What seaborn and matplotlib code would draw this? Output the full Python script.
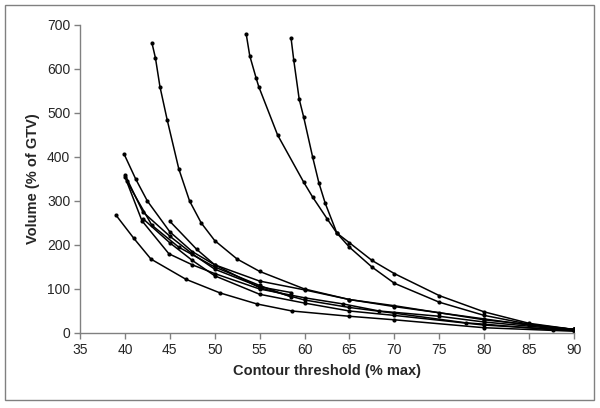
import pandas as pd
import matplotlib.pyplot as plt
import matplotlib.patches as mpatches
import seaborn as sns

# contour threshold (% max) vs volume (% of GTV), one list pair per lesion
curva_a_x = [43, 43.4, 43.9, 44.7, 46, 47.2, 48.5, 50, 52.5, 55, 60, 65, 70, 75, 80, 85, 90]
curva_a_y = [660, 625, 560, 485, 373, 300, 250, 210, 168, 140, 100, 76, 60, 46, 32, 18, 8]

curva_b_x = [53.5, 53.9, 54.6, 54.9, 57, 59.9, 60.9, 62.5, 63.6, 65, 67.5, 70, 75, 80, 85, 90]
curva_b_y = [680, 630, 580, 560, 450, 343, 309, 260, 227, 205, 165, 135, 85, 48, 22, 8]

curva_c_x = [58.5, 58.8, 59.4, 59.9, 60.9, 61.6, 62.3, 63.6, 65, 67.5, 70, 75, 80, 85, 90]
curva_c_y = [670, 620, 532, 491, 400, 341, 295, 227, 195, 150, 113, 70, 40, 20, 8]

curva_d_x = [39.9, 41.2, 42.5, 45, 47.5, 50, 55, 60, 65, 70, 80, 90]
curva_d_y = [407, 350, 300, 230, 185, 155, 118, 98, 76, 62, 30, 8]

curva_e_x = [40, 42, 45, 47.5, 50, 55, 58.5]
curva_e_y = [360, 275, 220, 180, 145, 105, 92]

curva_f_x = [40, 41.9, 44.9, 47.5, 50, 55, 60, 64.3, 68.3, 75, 80, 90]
curva_f_y = [355, 255, 180, 155, 135, 100, 80, 66, 50, 38, 25, 6]

curva_g_x = [40.2, 43, 46, 50, 55, 58.5]
curva_g_y = [345, 245, 195, 150, 108, 82]

curva_h_x = [45, 48, 50, 55, 60, 65, 70, 78, 80, 87.7, 90]
curva_h_y = [254, 190, 155, 103, 75, 58, 45, 23, 20, 7, 6]

curva_i_x = [42, 45, 47.5, 50, 55, 60, 65, 70, 80, 90]
curva_i_y = [260, 205, 165, 130, 88, 68, 50, 40, 18, 6]

curva_j_x = [39, 41, 42.9, 46.8, 50.6, 54.7, 58.6, 65, 70, 80, 90]
curva_j_y = [268, 215, 168, 122, 91, 66, 50, 38, 30, 12, 4]

curvas = {
    'A': (curva_a_x, curva_a_y), 'B': (curva_b_x, curva_b_y),
    'C': (curva_c_x, curva_c_y), 'D': (curva_d_x, curva_d_y),
    'E': (curva_e_x, curva_e_y), 'F': (curva_f_x, curva_f_y),
    'G': (curva_g_x, curva_g_y), 'H': (curva_h_x, curva_h_y),
    'I': (curva_i_x, curva_i_y), 'J': (curva_j_x, curva_j_y),
}

linhas = []
for nome, (xs, ys) in curvas.items():
    for x, y in zip(xs, ys):
        linhas.append({'curva': nome, 'limiar': x, 'volume': y})
df = pd.DataFrame(linhas)

sns.set_theme(style="white")
plt.rcParams['font.family'] = ['Liberation Sans', 'DejaVu Sans']

fig = plt.figure(figsize=(6, 4.08), dpi=100)
ax = fig.add_axes([80 / 600, 1 - 333 / 408, 494 / 600, 308 / 408])

sns.lineplot(data=df, x='limiar', y='volume', units='curva', estimator=None,
             sort=False, color='black', linewidth=1.1, marker='o',
             markersize=3, markeredgewidth=0, ax=ax)

ax.set_xlim(35, 90)
ax.set_ylim(0, 700)
ax.set_xticks(range(35, 91, 5))
ax.set_yticks(range(0, 701, 100))
ax.tick_params(axis='both', labelsize=10, direction='out', length=4,
               width=1, color='#808080', pad=3, bottom=True, left=True)
for lado in ['top', 'right']:
    ax.spines[lado].set_visible(False)
for lado in ['left', 'bottom']:
    ax.spines[lado].set_color('#808080')
    ax.spines[lado].set_linewidth(1)

ax.set_xlabel('Contour threshold (% max)', fontsize=10.5, fontweight='bold', labelpad=5)
ax.set_ylabel('Volume (% of GTV)', fontsize=10.5, fontweight='bold', labelpad=5)

# moldura cinza ao redor do gráfico, estilo Excel
fig.patches.append(mpatches.Rectangle((5 / 600, 8 / 408), 589 / 600, 395 / 408,
                                      transform=fig.transFigure, fill=False,
                                      edgecolor='#808080', linewidth=1))

fig.savefig('out.png', dpi=100)
